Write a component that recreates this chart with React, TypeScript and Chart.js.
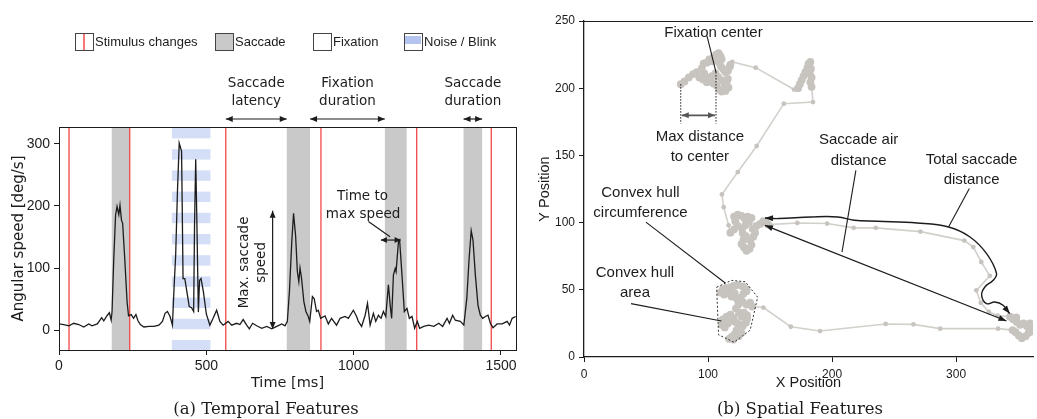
import React, { useEffect, useRef } from 'react';
import { Chart, registerables } from 'chart.js';

Chart.register(...registerables);

type Pt = [number, number];

/* ---------- (a) Temporal features: angular speed trace ---------- */
const timeMs = [
  0, 16, 34, 50, 67, 84, 101, 112, 130, 145, 152, 164, 171, 177, 180, 186, 192, 197, 203, 207,
  212, 216, 223, 231, 236, 245, 253, 261, 268, 276, 288, 305, 322, 339, 351, 360, 368, 377, 385, 391,
  396, 402, 408, 416, 421, 427, 436, 442, 450, 457, 460, 464, 467, 473, 477, 482, 490, 500, 512, 523,
  535, 546, 557, 574, 586, 603, 614, 625, 637, 646, 657, 671, 688, 705, 722, 739, 756, 767, 775, 782,
  790, 796, 803, 809, 814, 818, 823, 831, 838, 846, 851, 860, 866, 874, 880, 888, 903, 914, 925, 942,
  954, 971, 982, 999, 1010, 1016, 1027, 1039, 1047, 1056, 1067, 1075, 1084, 1093, 1101, 1109, 1118, 1124, 1129, 1135,
  1141, 1144, 1152, 1156, 1164, 1172, 1181, 1189, 1198, 1207, 1216, 1224, 1238, 1255, 1272, 1289, 1302, 1317, 1325, 1336,
  1345, 1362, 1374, 1384, 1392, 1399, 1405, 1413, 1422, 1430, 1438, 1447, 1456, 1464, 1473, 1487, 1504, 1521, 1529, 1538,
  1550,
];
const speedDegS = [
  10, 9, 7, 11, 9, 5, 10, 7, 10, 20, 15, 24, 28, 16, 30, 116, 185, 199, 186, 201,
  177, 172, 116, 46, 23, 25, 19, 25, 15, 9, 5, 6, 6, 8, 14, 27, 30, 22, 8, 73,
  121, 223, 301, 288, 83, 83, 56, 38, 36, 30, 169, 275, 200, 29, 80, 83, 62, 26, 8, 19,
  32, 14, 8, 14, 8, 11, 9, 17, 8, 2, 11, 7, 3, 6, 2, 6, 10, 7, 14, 62,
  142, 188, 152, 94, 78, 100, 84, 46, 30, 22, 14, 54, 51, 30, 32, 19, 23, 10, 19, 8,
  19, 22, 19, 32, 22, 14, 6, 24, 43, 8, 27, 14, 24, 19, 30, 22, 73, 40, 19, 89,
  99, 94, 142, 145, 89, 30, 35, 19, 22, 3, 14, 3, 6, 8, 6, 11, 6, 19, 11, 24,
  16, 14, 8, 51, 116, 160, 145, 89, 40, 24, 19, 22, 24, 11, 4, 10, 10, 14, 8, 19,
  22,
];
const stimulusChangesMs = [34, 240, 566, 889, 1214, 1467];
const saccadeStartMs = [179, 773, 1106, 1373];
const saccadeEndMs = [240, 852, 1180, 1436];
const blinkStartMs = [383];
const blinkEndMs = [514];
const timeTicks = [0, 500, 1000, 1500];
const speedTicks = [0, 100, 200, 300];
const legendLabels = ['Stimulus changes', 'Saccade', 'Fixation', 'Noise / Blink'];
const maxSpeedMarkerMs = 725;

/* ---------- (b) Spatial features: gaze positions ---------- */
const fixationA: Pt[] = [
  [78, 203], [81, 205], [84.5, 208], [88, 210.5], [91, 212], [93, 208], [96, 206.5], [99, 204.5],
  [102, 205], [104.5, 203.5], [107, 202], [109, 199], [111, 197.5], [114, 198], [116.5, 200.5],
  [115, 204], [116, 207], [113.5, 203], [111, 206], [108, 208.5], [106, 211], [103, 209], [99.5, 207.5],
  [97, 211], [95, 215], [96.5, 218.5], [99, 219], [101, 221.5], [103.5, 220], [104.5, 223], [106.5, 225],
  [108.5, 226], [110, 224], [111, 221.5], [109, 219], [110.5, 216], [112.5, 214], [114, 212], [116, 213],
  [117.5, 216], [118, 217.5],
];
const saccadeAB: Pt[] = [[119.6, 219.5], [138.4, 215.3], [169.4, 199]];
const fixationB: Pt[] = [
  [172.6, 200], [174, 203], [175.5, 206], [177, 209], [178.5, 212], [180, 215], [181.5, 217.5],
  [182.5, 219.5], [181, 218], [183, 214.5], [182, 211], [183.5, 208], [182.5, 204.5], [183.5, 201],
];
const saccadeBC: Pt[] = [
  [184.6, 189.7], [161.1, 188.5], [139.2, 157], [124, 137.6], [111.2, 121], [112.6, 111.5], [116.6, 98],
];
const fixationC: Pt[] = [
  [118, 92.5], [121, 95], [124, 97.5], [122, 101], [121, 104.5], [124, 106], [127, 105], [129.5, 103],
  [132, 104.5], [135, 103.5], [133, 100.5], [130, 98], [127.5, 95.5], [128, 92], [130.5, 90], [128.5, 87],
  [127, 84], [129, 81.5], [131, 79], [133.5, 80.5], [135, 83.5], [134, 87], [136.5, 89.5], [138, 92.5],
  [136, 95.5], [139, 97.5], [142, 99], [144.5, 101], [147, 100], [148.5, 98.5],
];
const saccadeCD: Pt[] = [
  [172, 99.7], [196, 99.3], [217.4, 96.1], [235.2, 96.1], [271.2, 93.3], [306.6, 86.6], [313.9, 81.8],
  [320.3, 70.7], [327.2, 60.4], [316.3, 49.6], [319.9, 40.3], [326.4, 33.5], [333.4, 30.8],
];
const fixationD: Pt[] = [
  [343.5, 30], [346, 28], [348.5, 29.5], [349, 26], [351.5, 24], [354.5, 25], [357, 23], [359.5, 25],
  [362, 24], [365, 25], [367, 22], [364, 20], [361, 19], [358.5, 18], [356, 15.5], [353, 14],
  [350.5, 16], [348, 18.5], [345.5, 20],
];
const saccadeDE: Pt[] = [
  [333.9, 21.1], [287.2, 21.1], [265.6, 24.3], [243.2, 24.6], [190.3, 19.3], [166.7, 22.5], [144.6, 36.8],
];
const fixationE: Pt[] = [
  [135.5, 37.5], [134, 40.5], [131, 39], [128, 41], [126, 44], [128.5, 47], [131, 49], [131, 50.5],
  [128, 52.5], [124, 53.5], [121, 53], [118, 52], [115, 51.5], [112, 50.5], [110, 48], [113, 46.5],
  [116.5, 47.5], [119, 45], [121.5, 47.5], [123.5, 43], [124.5, 39], [122.5, 36], [125, 33], [127, 30],
  [129, 33], [131.5, 31], [131.5, 28.5], [130.5, 25.5], [128, 23], [125, 24.5], [122, 26], [119, 27.5],
  [116, 25], [113.5, 22], [111, 24], [112, 28], [115, 30], [118, 31.5], [120.5, 29], [123, 20],
  [121.5, 17], [119, 15], [117, 13.5], [120.5, 13], [124.5, 15.5], [127, 18],
];
const convexHullE: Pt[] = [
  [107, 52], [119, 57], [130, 56], [140, 44.5], [134, 20], [121, 11], [108.5, 16.5], [107, 50], [107, 52],
];
const fixationCenterA: Pt = [106.4, 212];
const totalSaccadePath: Pt[] = [
  [145.9, 103.4], [156.6, 103], [183.2, 104.2], [204.6, 104.2], [217.9, 101.7], [236.6, 101],
  [268.6, 99.7], [293.9, 96.7], [311.2, 89.3], [324.6, 76.9], [332.6, 62.1], [329.9, 57.1],
  [323.2, 52.1], [320.6, 45.9], [324.6, 39.7], [331.2, 40.9], [337.9, 38.5], [343.2, 32.3],
];
const airDistanceFrom: Pt = [145.9, 98];
const airDistanceTo: Pt = [340.6, 26.8];
const positionXTicks = [0, 100, 200, 300];
const positionYTicks = [0, 50, 100, 150, 200, 250];

const spatialLabels: { lines: string[]; at: Pt }[] = [
  { lines: ['Fixation center'], at: [104.4, 241.4] },
  { lines: ['Max distance', 'to center'], at: [93.4, 156.2] },
  { lines: ['Convex hull', 'circumference'], at: [45.5, 114.7] },
  { lines: ['Convex hull', 'area'], at: [41.1, 55.4] },
  { lines: ['Saccade air', 'distance'], at: [221.4, 153.8] },
  { lines: ['Total saccade', 'distance'], at: [312.5, 139.5] },
];
const spatialLeaders: [Pt, Pt][] = [
  [[99.2, 238.8], fixationCenterA],
  [[49.9, 100.4], [113.9, 55.1]],
  [[37.9, 39.7], [110.7, 26.8]],
  [[219.2, 138.9], [208, 78.1]],
  [[310.7, 125.3], [293.9, 96.7]],
];

/* ---------- styling ---------- */
const INK = '#1c1c1c';
const RED = '#f04848';
const SACCADE_GRAY = '#c9c9c9';
const BLINK_BLUE = '#d4def6';
const LEGEND_BLUE = '#b4c4ee';
const GAZE_LINE = '#d3d0cc';
const GAZE_POINT = '#c7c4bf';
const DV = '"DejaVu Sans", sans-serif';
const LIB = '"Liberation Sans", Arial, sans-serif';
const NARROW = '"Liberation Sans Narrow", "Liberation Sans", sans-serif';
const SERIF = '"DejaVu Serif", serif';

const plainNumber = (v: any) => String(v);

function arrowHead(ctx: CanvasRenderingContext2D, fx: number, fy: number, tx: number, ty: number, len = 7, half = 3) {
  const a = Math.atan2(ty - fy, tx - fx);
  const c = Math.cos(a);
  const s = Math.sin(a);
  ctx.beginPath();
  ctx.moveTo(tx, ty);
  ctx.lineTo(tx - len * c + half * s, ty - len * s - half * c);
  ctx.lineTo(tx - len * c - half * s, ty - len * s + half * c);
  ctx.closePath();
  ctx.fill();
}

function doubleArrow(ctx: CanvasRenderingContext2D, x1: number, y1: number, x2: number, y2: number, len = 7, half = 3) {
  ctx.beginPath();
  ctx.moveTo(x1, y1);
  ctx.lineTo(x2, y2);
  ctx.stroke();
  arrowHead(ctx, x1, y1, x2, y2, len, half);
  arrowHead(ctx, x2, y2, x1, y1, len, half);
}

const temporalDecor = {
  id: 'temporalDecor',
  beforeDatasetsDraw(chart: any) {
    const { ctx, chartArea: a } = chart;
    const sx = chart.scales.x;
    ctx.save();
    ctx.beginPath();
    ctx.rect(a.left, a.top, a.right - a.left, a.bottom - a.top);
    ctx.clip();
    // noise / blink intervals as horizontal stripes
    ctx.fillStyle = BLINK_BLUE;
    blinkStartMs.forEach((s, i) => {
      const x0 = sx.getPixelForValue(s);
      const x1 = sx.getPixelForValue(blinkEndMs[i]);
      for (let yy = a.top + 1; yy < a.bottom; yy += 21.2) {
        ctx.fillRect(x0, yy, x1 - x0, Math.min(10.4, a.bottom - yy));
      }
    });
    // saccade intervals
    ctx.fillStyle = SACCADE_GRAY;
    saccadeStartMs.forEach((s, i) => {
      const x0 = sx.getPixelForValue(s);
      const x1 = sx.getPixelForValue(saccadeEndMs[i]);
      ctx.fillRect(x0, a.top, x1 - x0, a.bottom - a.top);
    });
    // stimulus changes
    ctx.strokeStyle = RED;
    ctx.lineWidth = 1.3;
    stimulusChangesMs.forEach((t) => {
      const px = sx.getPixelForValue(t);
      ctx.beginPath();
      ctx.moveTo(px, a.top);
      ctx.lineTo(px, a.bottom);
      ctx.stroke();
    });
    ctx.restore();
  },
  afterDatasetsDraw(chart: any) {
    const { ctx, chartArea: a } = chart;
    const sx = chart.scales.x;
    const sy = chart.scales.y;
    ctx.save();
    // plot frame
    ctx.strokeStyle = INK;
    ctx.lineWidth = 1;
    ctx.strokeRect(Math.round(a.left) + 0.5, Math.round(a.top) + 0.5, Math.round(a.right - a.left), Math.round(a.bottom - a.top));

    ctx.fillStyle = INK;
    ctx.strokeStyle = INK;
    ctx.lineWidth = 1.2;

    // max saccade speed marker
    const peak2 = Math.max(...speedDegS.filter((_, i) => timeMs[i] >= saccadeStartMs[1] && timeMs[i] <= saccadeEndMs[1]));
    const mx = sx.getPixelForValue(maxSpeedMarkerMs);
    doubleArrow(ctx, mx, sy.getPixelForValue(peak2 + 4), mx, sy.getPixelForValue(2), 7, 3);
    ctx.font = `13.5px ${DV}`;
    ctx.textAlign = 'center';
    ctx.textBaseline = 'middle';
    ctx.save();
    ctx.translate(sx.getPixelForValue(660), sy.getPixelForValue(109));
    ctx.rotate(-Math.PI / 2);
    ctx.fillText('Max. saccade', 0, -8.5);
    ctx.fillText('speed', 0, 8.5);
    ctx.restore();

    // time to max speed marker
    let peakIdx = -1;
    timeMs.forEach((t, i) => {
      if (t >= saccadeStartMs[2] && t <= saccadeEndMs[2] && (peakIdx < 0 || speedDegS[i] > speedDegS[peakIdx])) peakIdx = i;
    });
    const ty = sy.getPixelForValue(speedDegS[peakIdx]);
    doubleArrow(ctx, sx.getPixelForValue(saccadeStartMs[2]) - 4, ty, sx.getPixelForValue(timeMs[peakIdx]) + 1, ty, 6, 3);
    ctx.beginPath();
    ctx.moveTo(sx.getPixelForValue(1050), sy.getPixelForValue(174.7));
    ctx.lineTo(sx.getPixelForValue(1123.6), sy.getPixelForValue(150.5));
    ctx.stroke();
    ctx.fillText('Time to', sx.getPixelForValue(1030), sy.getPixelForValue(215));
    ctx.fillText('max speed', sx.getPixelForValue(1032), sy.getPixelForValue(186.6));

    // interval measures above the plot
    const spans = [
      { from: stimulusChangesMs[2], to: saccadeStartMs[1], lines: ['Saccade', 'latency'] },
      { from: saccadeEndMs[1], to: saccadeStartMs[2], lines: ['Fixation', 'duration'] },
      { from: saccadeStartMs[3], to: saccadeEndMs[3], lines: ['Saccade', 'duration'] },
    ];
    spans.forEach((sp) => {
      const x0 = sx.getPixelForValue(sp.from);
      const x1 = sx.getPixelForValue(sp.to);
      doubleArrow(ctx, x0, a.top - 8, x1, a.top - 8, 7, 3);
      const cx = (x0 + x1) / 2;
      ctx.fillText(sp.lines[0], cx, a.top - 44);
      ctx.fillText(sp.lines[1], cx, a.top - 26);
    });

    // legend
    const legendX = [75, 215, 313, 404];
    const bt = 33;
    const bh = 17;
    const bw = 18;
    ctx.font = `13px ${LIB}`;
    ctx.textAlign = 'left';
    legendLabels.forEach((label, i) => {
      const x = legendX[i];
      ctx.fillStyle = i === 1 ? SACCADE_GRAY : '#ffffff';
      ctx.fillRect(x, bt, bw, bh);
      if (i === 3) {
        ctx.fillStyle = LEGEND_BLUE;
        ctx.fillRect(x + 1, bt + 3, bw - 2, 8);
      }
      if (i === 0) {
        ctx.strokeStyle = RED;
        ctx.lineWidth = 1.5;
        ctx.beginPath();
        ctx.moveTo(x + bw / 2, bt + 1);
        ctx.lineTo(x + bw / 2, bt + bh);
        ctx.stroke();
      }
      ctx.strokeStyle = '#444';
      ctx.lineWidth = 1;
      ctx.strokeRect(x + 0.5, bt + 0.5, bw, bh);
      ctx.fillStyle = INK;
      ctx.fillText(label, x + bw + 2, bt + bh / 2 + 1);
    });

    // caption
    ctx.font = `16.5px ${SERIF}`;
    ctx.textAlign = 'center';
    ctx.fillText('(a) Temporal Features', 266, 410);
    ctx.restore();
  },
};

const spatialDecor = {
  id: 'spatialDecor',
  afterDatasetsDraw(chart: any) {
    const { ctx } = chart;
    const sx = chart.scales.x;
    const sy = chart.scales.y;
    const P = (p: Pt) => [sx.getPixelForValue(p[0]), sy.getPixelForValue(p[1])];
    ctx.save();
    ctx.strokeStyle = INK;
    ctx.fillStyle = INK;
    ctx.lineWidth = 1.3;

    // saccade air distance
    const [ax1, ay1] = P(airDistanceFrom);
    const [ax2, ay2] = P(airDistanceTo);
    doubleArrow(ctx, ax1, ay1, ax2, ay2, 8, 3);

    // arrowheads of the total saccade distance
    const n = totalSaccadePath.length;
    const [s1x, s1y] = P(totalSaccadePath[1]);
    const [s0x, s0y] = P(totalSaccadePath[0]);
    arrowHead(ctx, s1x, s1y, s0x, s0y, 8, 3);
    const [e1x, e1y] = P(totalSaccadePath[n - 2]);
    const [e0x, e0y] = P(totalSaccadePath[n - 1]);
    arrowHead(ctx, e1x, e1y, e0x, e0y, 8, 3);

    // leader lines
    ctx.lineWidth = 1.1;
    spatialLeaders.forEach(([f, t]) => {
      const [fx, fy] = P(f);
      const [tx, ty] = P(t);
      ctx.beginPath();
      ctx.moveTo(fx, fy);
      ctx.lineTo(tx, ty);
      ctx.stroke();
    });

    // max distance to center
    const leftmost = fixationA[0];
    const baseY = 173.7;
    const [lx, ly] = P(leftmost);
    const [cx, cy] = P(fixationCenterA);
    const by = sy.getPixelForValue(baseY);
    ctx.setLineDash([1.5, 1.5]);
    ctx.lineWidth = 1;
    ctx.beginPath();
    ctx.moveTo(lx, ly);
    ctx.lineTo(lx, by);
    ctx.moveTo(cx, cy);
    ctx.lineTo(cx, by);
    ctx.stroke();
    ctx.setLineDash([]);
    ctx.strokeStyle = '#555';
    ctx.fillStyle = '#555';
    ctx.lineWidth = 1.6;
    const ay = sy.getPixelForValue(179.8);
    doubleArrow(ctx, lx + 1, ay, cx - 1, ay, 7, 3);

    // labels
    ctx.fillStyle = INK;
    ctx.font = `15px ${LIB}`;
    ctx.textAlign = 'center';
    ctx.textBaseline = 'middle';
    spatialLabels.forEach((lab) => {
      const [px, py] = P(lab.at);
      const h = 20.3;
      const y0 = py - ((lab.lines.length - 1) * h) / 2;
      lab.lines.forEach((line, i) => ctx.fillText(line, px, y0 + i * h));
    });
    ctx.restore();
  },
  afterDraw(chart: any) {
    const { ctx, chartArea: a } = chart;
    ctx.save();
    ctx.strokeStyle = INK;
    ctx.lineWidth = 1;
    ctx.beginPath();
    ctx.moveTo(a.left, Math.round(a.top) + 0.5);
    ctx.lineTo(a.right, Math.round(a.top) + 0.5);
    ctx.stroke();
    ctx.fillStyle = INK;
    ctx.font = `16.5px ${SERIF}`;
    ctx.textAlign = 'center';
    ctx.textBaseline = 'middle';
    ctx.fillText('(b) Spatial Features', 270, 410);
    ctx.restore();
  },
};

function buildTemporal(canvas: HTMLCanvasElement) {
  return new Chart(canvas, {
    type: 'scatter',
    data: {
      datasets: [
        {
          data: timeMs.map((t, i) => ({ x: t, y: speedDegS[i] })),
          showLine: true,
          borderColor: INK,
          borderWidth: 1.3,
          pointRadius: 0,
          tension: 0,
        },
      ],
    },
    options: {
      responsive: false,
      animation: false,
      layout: { padding: { left: 0, right: 14, top: 127, bottom: 0 } },
      plugins: { legend: { display: false }, tooltip: { enabled: false } },
      scales: {
        x: {
          type: 'linear',
          min: 0,
          max: 1551,
          afterBuildTicks: (s: any) => {
            s.ticks = timeTicks.map((v) => ({ value: v }));
          },
          afterFit: (s: any) => {
            s.height = 69;
          },
          border: { display: false },
          grid: { drawOnChartArea: false, drawTicks: true, tickLength: 5, color: INK },
          ticks: { color: INK, font: { family: NARROW, size: 14 }, padding: 3, maxRotation: 0, callback: plainNumber },
          title: {
            display: true,
            text: 'Time [ms]',
            color: INK,
            font: { family: DV, size: 14.5 },
            padding: { top: 0, bottom: 27 },
          },
        },
        y: {
          type: 'linear',
          min: -32,
          max: 327,
          afterBuildTicks: (s: any) => {
            s.ticks = speedTicks.map((v) => ({ value: v }));
          },
          afterFit: (s: any) => {
            s.width = 59;
          },
          border: { display: false },
          grid: { drawOnChartArea: false, drawTicks: true, tickLength: 5, color: INK },
          ticks: { color: INK, font: { family: NARROW, size: 14 }, padding: 4, callback: plainNumber },
          title: {
            display: true,
            text: 'Angular speed [deg/s]',
            color: INK,
            font: { family: DV, size: 15 },
            padding: { top: 10, bottom: 0 },
          },
        },
      },
    },
    plugins: [temporalDecor],
  } as any);
}

function buildSpatial(canvas: HTMLCanvasElement) {
  const segments: { fix: boolean; pts: Pt[] }[] = [
    { fix: true, pts: fixationA },
    { fix: false, pts: saccadeAB },
    { fix: true, pts: fixationB },
    { fix: false, pts: saccadeBC },
    { fix: true, pts: fixationC },
    { fix: false, pts: saccadeCD },
    { fix: true, pts: fixationD },
    { fix: false, pts: saccadeDE },
    { fix: true, pts: fixationE },
  ];
  const gaze: { x: number; y: number }[] = [];
  const radii: number[] = [];
  segments.forEach((seg) =>
    seg.pts.forEach(([x, y]) => {
      gaze.push({ x, y });
      radii.push(seg.fix ? 3.9 : 2.4);
    })
  );
  return new Chart(canvas, {
    type: 'scatter',
    data: {
      datasets: [
        {
          data: totalSaccadePath.map(([x, y]) => ({ x, y })),
          showLine: true,
          borderColor: INK,
          borderWidth: 1.4,
          pointRadius: 0,
          tension: 0.4,
          order: 1,
        },
        {
          data: convexHullE.map(([x, y]) => ({ x, y })),
          showLine: true,
          borderColor: '#333',
          borderWidth: 1,
          borderDash: [2, 2],
          pointRadius: 0,
          tension: 0,
          order: 2,
        },
        {
          data: gaze,
          showLine: true,
          borderColor: GAZE_LINE,
          borderWidth: 1.6,
          pointRadius: radii,
          pointBackgroundColor: GAZE_POINT,
          pointBorderWidth: 0,
          tension: 0,
          order: 3,
        },
      ],
    },
    options: {
      responsive: false,
      animation: false,
      layout: { padding: { left: 0, right: 0, top: 21, bottom: 0 } },
      plugins: { legend: { display: false }, tooltip: { enabled: false } },
      scales: {
        x: {
          type: 'linear',
          min: 0,
          max: 362,
          afterBuildTicks: (s: any) => {
            s.ticks = positionXTicks.map((v) => ({ value: v }));
          },
          afterFit: (s: any) => {
            s.height = 62;
          },
          border: { display: true, color: INK, width: 1.3 },
          grid: { drawOnChartArea: false, drawTicks: true, tickLength: 5, color: INK },
          ticks: { color: INK, font: { family: LIB, size: 12 }, padding: 5, maxRotation: 0, callback: plainNumber },
          title: {
            display: true,
            text: 'X Position',
            color: INK,
            font: { family: LIB, size: 14.5 },
            padding: { top: 0, bottom: 27 },
          },
        },
        y: {
          type: 'linear',
          min: 0,
          max: 250,
          afterBuildTicks: (s: any) => {
            s.ticks = positionYTicks.map((v) => ({ value: v }));
          },
          afterFit: (s: any) => {
            s.width = 54;
          },
          border: { display: true, color: INK, width: 1.3 },
          grid: { drawOnChartArea: false, drawTicks: true, tickLength: 5, color: INK },
          ticks: { color: INK, font: { family: LIB, size: 12 }, padding: 4, callback: plainNumber },
          title: {
            display: true,
            text: 'Y Position',
            color: INK,
            font: { family: LIB, size: 14.5 },
            padding: { top: 6, bottom: 0 },
          },
        },
      },
    },
    plugins: [spatialDecor],
  } as any);
}

export default function App() {
  const leftRef = useRef<HTMLCanvasElement>(null);
  const rightRef = useRef<HTMLCanvasElement>(null);

  useEffect(() => {
    const left = leftRef.current ? buildTemporal(leftRef.current) : null;
    const right = rightRef.current ? buildSpatial(rightRef.current) : null;
    return () => {
      left?.destroy();
      right?.destroy();
    };
  }, []);

  return (
    <div style={{ position: 'absolute', left: 0, top: 0, width: 1037, height: 419, background: '#fff', overflow: 'hidden' }}>
      <canvas ref={leftRef} width={530} height={419} style={{ position: 'absolute', left: 0, top: 0, width: 530, height: 419 }} />
      <canvas ref={rightRef} width={507} height={419} style={{ position: 'absolute', left: 530, top: 0, width: 507, height: 419 }} />
    </div>
  );
}
